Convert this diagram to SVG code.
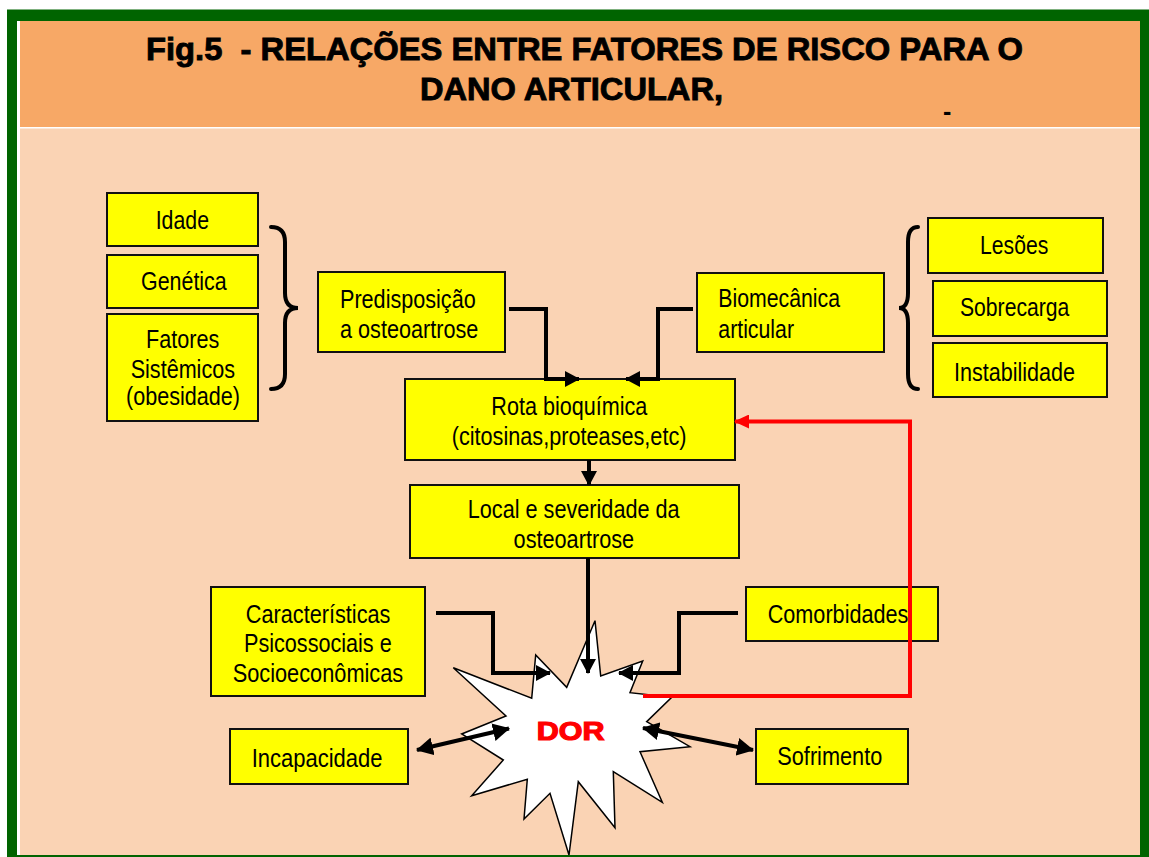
<svg xmlns="http://www.w3.org/2000/svg" width="1149" height="857" viewBox="0 0 1149 857">
<style>
.box{fill:#FFFF00;stroke:#111;stroke-width:2}
.t{font-family:"Liberation Sans",Arial,sans-serif;font-size:25px;fill:#000}
.ttl{font-family:"Liberation Sans",Arial,sans-serif;font-size:32px;font-weight:bold;fill:#000;stroke:#000;stroke-width:0.9}
.con{fill:none;stroke:#000;stroke-width:4}
.red{fill:none;stroke:#FF0000;stroke-width:4}
.brace{fill:none;stroke:#000;stroke-width:4;stroke-linecap:round}
</style>
<defs>
<marker id="ah" viewBox="0 0 15 16" refX="14" refY="8" markerWidth="15" markerHeight="16" markerUnits="userSpaceOnUse" orient="auto-start-reverse">
<path d="M0,0 L15,8 L0,16 Z" fill="#000"/>
</marker>
<marker id="ah2" viewBox="0 0 17 18" refX="16" refY="9" markerWidth="17" markerHeight="18" markerUnits="userSpaceOnUse" orient="auto-start-reverse">
<path d="M0,0 L17,9 L0,18 Z" fill="#000"/>
</marker>
<marker id="ahr" viewBox="0 0 15 14" refX="14" refY="7" markerWidth="15" markerHeight="14" markerUnits="userSpaceOnUse" orient="auto">
<path d="M0,0 L15,7 L0,14 Z" fill="#FF0000"/>
</marker>
</defs>
<rect x="0" y="0" width="1149" height="857" fill="#FFFFFF"/>
<rect x="7" y="9.5" width="1142" height="847.5" fill="#006400"/>
<rect x="17" y="21" width="1123" height="834" fill="#FFFFFF"/>
<rect x="20" y="21" width="1120" height="106" fill="#F7A866"/>
<rect x="20" y="128.5" width="1120" height="726.5" fill="#FAD3B4"/>

<g id="title">
<text class="ttl" x="146" y="60" textLength="877" lengthAdjust="spacingAndGlyphs" xml:space="preserve">Fig.5  - RELAÇÕES ENTRE FATORES DE RISCO PARA O</text>
<text class="ttl" x="420" y="100" textLength="303" lengthAdjust="spacingAndGlyphs">DANO ARTICULAR,</text>
<text class="t" x="943" y="120" font-size="12" font-weight="bold">-</text>
</g>

<g id="braces">
<path class="brace" d="M271,227 Q285,227 285,242 V293 Q285,308 298,308 Q285,308 285,323 V374 Q285,389 271,389"/>
<path class="brace" d="M918,227 Q908,227 908,242 V293 Q908,308 899,308 Q908,308 908,323 V374 Q908,389 918,389"/>
</g>

<g id="idade"><rect class="box" x="107" y="193" width="151" height="53"/><text class="t" x="155.7" y="229.3" textLength="53.3" lengthAdjust="spacingAndGlyphs">Idade</text></g>
<g id="genetica"><rect class="box" x="107" y="255" width="151" height="53"/><text class="t" x="141" y="290" textLength="85.7" lengthAdjust="spacingAndGlyphs">Genética</text></g>
<g id="fatores"><rect class="box" x="107" y="314" width="151" height="107"/>
<text class="t" x="146" y="347.5" textLength="73.3" lengthAdjust="spacingAndGlyphs">Fatores</text>
<text class="t" x="130.7" y="377.5" textLength="104.3" lengthAdjust="spacingAndGlyphs">Sistêmicos</text>
<text class="t" x="126" y="405" textLength="114" lengthAdjust="spacingAndGlyphs">(obesidade)</text></g>

<g id="predisposicao"><rect class="box" x="318" y="272" width="187" height="80"/>
<text class="t" x="340" y="307.7" textLength="135.7" lengthAdjust="spacingAndGlyphs">Predisposição</text>
<text class="t" x="340" y="338.3" textLength="138.3" lengthAdjust="spacingAndGlyphs">a osteoartrose</text></g>

<g id="biomecanica"><rect class="box" x="697" y="273" width="187" height="79"/>
<text class="t" x="718.3" y="307.3" textLength="121.7" lengthAdjust="spacingAndGlyphs">Biomecânica</text>
<text class="t" x="718.3" y="338.3" textLength="75.7" lengthAdjust="spacingAndGlyphs">articular</text></g>

<g id="lesoes"><rect class="box" x="928" y="218" width="175" height="55"/><text class="t" x="980" y="254" textLength="68.3" lengthAdjust="spacingAndGlyphs">Lesões</text></g>
<g id="sobrecarga"><rect class="box" x="933" y="281" width="174" height="55"/><text class="t" x="960" y="316" textLength="109.3" lengthAdjust="spacingAndGlyphs">Sobrecarga</text></g>
<g id="instabilidade"><rect class="box" x="933" y="343" width="174" height="54"/><text class="t" x="954" y="381" textLength="121" lengthAdjust="spacingAndGlyphs">Instabilidade</text></g>

<g id="rota"><rect class="box" x="405" y="379" width="330" height="81"/>
<text class="t" x="491.3" y="415" textLength="156" lengthAdjust="spacingAndGlyphs">Rota bioquímica</text>
<text class="t" x="451.7" y="445" textLength="234.8" lengthAdjust="spacingAndGlyphs">(citosinas,proteases,etc)</text></g>

<g id="local"><rect class="box" x="410" y="485" width="329" height="73"/>
<text class="t" x="467.8" y="518.3" textLength="211.8" lengthAdjust="spacingAndGlyphs">Local e severidade da</text>
<text class="t" x="513.6" y="548.3" textLength="120.5" lengthAdjust="spacingAndGlyphs">osteoartrose</text></g>

<g id="caracteristicas"><rect class="box" x="211" y="587" width="214" height="109"/>
<text class="t" x="245.8" y="622.7" textLength="144.6" lengthAdjust="spacingAndGlyphs">Características</text>
<text class="t" x="244" y="651.7" textLength="147.7" lengthAdjust="spacingAndGlyphs">Psicossociais e</text>
<text class="t" x="232.7" y="681.7" textLength="170.5" lengthAdjust="spacingAndGlyphs">Socioeconômicas</text></g>

<g id="comorbidades"><rect class="box" x="746" y="587" width="192" height="54"/><text class="t" x="767.7" y="622.7" textLength="140.7" lengthAdjust="spacingAndGlyphs">Comorbidades</text></g>

<g id="incapacidade"><rect class="box" x="230" y="729" width="178" height="55"/><text class="t" x="251.7" y="766.7" textLength="130.8" lengthAdjust="spacingAndGlyphs">Incapacidade</text></g>

<g id="sofrimento"><rect class="box" x="756" y="729" width="152" height="55"/><text class="t" x="777.3" y="765" textLength="105" lengthAdjust="spacingAndGlyphs">Sofrimento</text></g>

<g id="dor">
<polygon points="595,620.7 600.7,676 642.7,661 630,692.7 671.7,697.3 646.7,721.7 690,746.7 640,751.7 662.3,802.3 613.3,771.7 615,827.7 578.3,781.7 569,855 550,793.3 524,819 527.3,779.3 471.7,795.7 503.3,760 461.7,734 506,716 453.3,667.7 531.7,698.3 535.7,655 566.7,687.3" fill="#FFFFFF" stroke="#000" stroke-width="1.5" stroke-linejoin="miter"/>
<text x="536.7" y="740" font-family="'Liberation Sans',Arial,sans-serif" font-size="26" font-weight="bold" fill="#FF0000" stroke="#FF0000" stroke-width="1.2" textLength="67.7" lengthAdjust="spacingAndGlyphs">DOR</text>
</g>

<g id="connectors">
<path class="con" d="M509,309 H546 V379 H579" marker-end="url(#ah)"/>
<path class="con" d="M693,309 H658 V379 H626" marker-end="url(#ah)"/>
<path class="con" d="M589,460 V485" marker-end="url(#ah)"/>
<path class="con" d="M588,558 V673" marker-end="url(#ah)"/>
<path class="con" d="M436,613 H493 V673 H550" marker-end="url(#ah)"/>
<path class="con" d="M738,613 H679 V673 H619" marker-end="url(#ah)"/>
<path class="red" d="M643,696 H910 V421.5 H735" marker-end="url(#ahr)"/>
<path class="con" d="M417,750 L509,728.5" marker-start="url(#ah2)" marker-end="url(#ah2)"/>
<path class="con" d="M643,728 L753,750" marker-start="url(#ah2)" marker-end="url(#ah2)"/>
</g>
</svg>
